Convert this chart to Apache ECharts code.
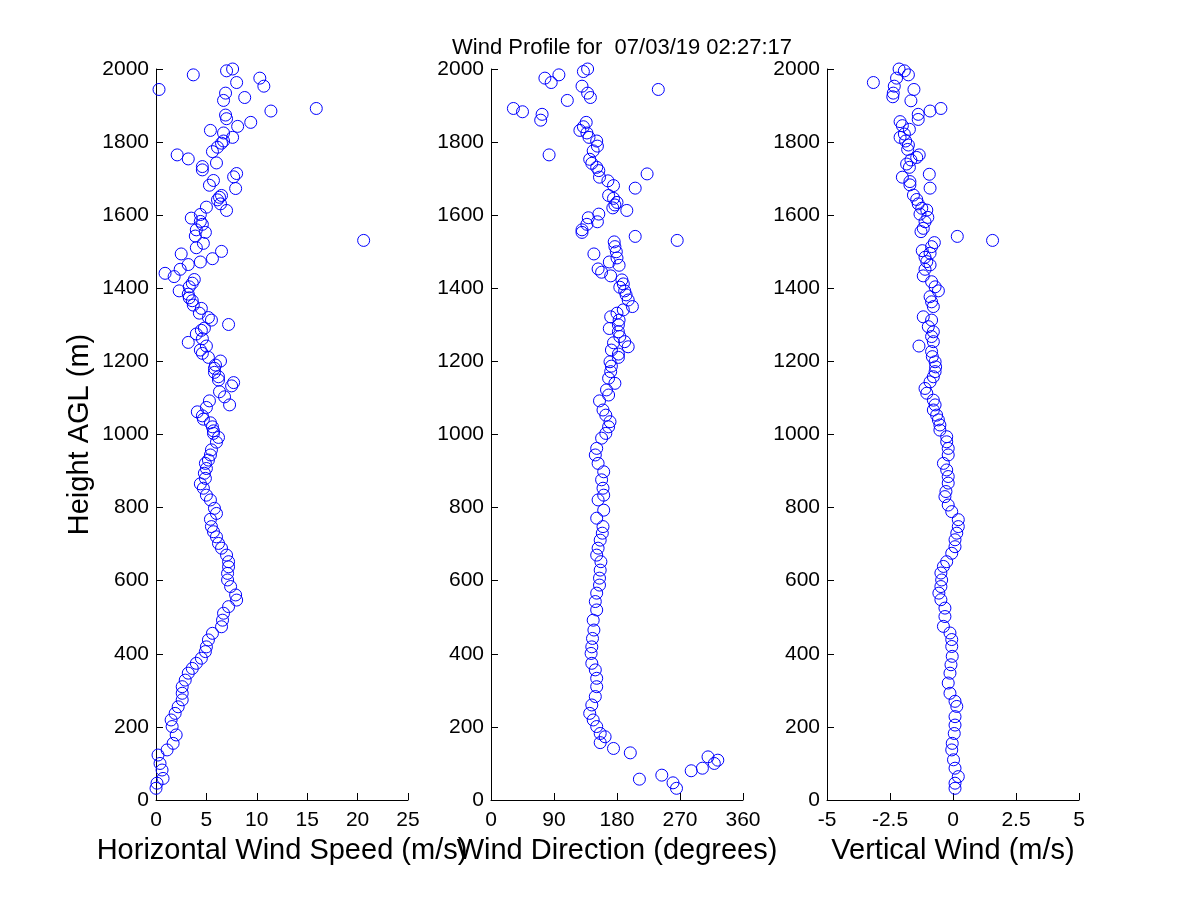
<!DOCTYPE html>
<html>
<head>
<meta charset="utf-8">
<script src="https://cdn.jsdelivr.net/npm/echarts@6/dist/echarts.min.js"></script>
<style>
html,body{margin:0;padding:0;background:#fff;}
#chart{width:1200px;height:900px;}
</style>
</head>
<body>
<div id="chart"></div>
<script>
// ---- Data ----
const titleText = 'Wind Profile for  07/03/19 02:27:17';

// Panel 1: horizontal wind speed (m/s)
const speedHeights = [2000,1995,1984,1975,1963,1953,1944,1934,1922,1914,1892,1885,1874,1864,1854,1843,1832,1825,1813,1803,1797,1786,1774,1765,1754,1743,1733,1724,1714,1705,1695,1682,1673,1654,1649,1642,1631,1622,1613,1602,1592,1583,1575,1560,1553,1543,1531,1523,1511,1501,1494,1481,1472,1465,1452,1441,1432,1424,1414,1404,1393,1384,1374,1366,1354,1345,1332,1320,1313,1301,1291,1285,1275,1262,1252,1242,1231,1222,1211,1201,1190,1181,1170,1158,1149,1142,1133,1117,1103,1092,1081,1074,1062,1051,1042,1032,1021,1010,1003,992,979,958,944,930,921,907,894,880,865,853,834,821,798,784,768,748,734,720,702,689,670,652,638,620,602,584,561,547,529,511,492,474,456,438,419,406,388,374,360,347,328,310,292,274,255,237,219,201,178,155,137,123,100,82,59,46,32];
const speed = [7.6,7.0,3.7,10.3,8.0,10.7,0.3,6.9,8.8,6.7,15.9,11.4,6.9,7.0,9.4,8.1,5.4,6.7,7.6,6.7,6.5,6.1,5.6,2.1,3.2,6.0,4.6,4.6,8.0,7.7,5.7,5.3,7.9,6.5,6.3,6.1,6.4,5.0,7.0,4.4,3.5,4.4,4.6,4.0,4.9,3.9,20.6,4.7,4.0,6.5,2.5,5.6,4.4,3.2,2.4,0.9,1.8,3.8,3.6,3.3,2.3,3.2,3.3,3.6,3.7,4.5,4.3,5.2,5.5,7.2,4.8,4.5,4.0,4.6,3.2,5.0,4.4,4.6,5.2,6.4,5.9,5.8,5.8,6.2,6.2,7.7,7.5,6.3,6.8,5.3,7.3,5.0,4.1,4.6,4.7,5.4,5.6,5.7,5.7,6.2,6.0,5.5,5.4,5.2,4.9,5.0,4.8,4.9,4.4,4.7,5.0,5.4,5.8,6.0,5.4,5.5,5.7,6.0,6.2,6.5,7.0,7.2,7.2,7.1,7.1,7.4,7.9,8.0,7.2,6.7,6.6,6.5,5.6,5.2,5.0,4.9,4.5,4.0,3.6,3.2,2.9,2.6,2.6,2.6,2.2,1.9,1.5,1.6,2.0,1.7,1.1,0.2,0.4,0.6,0.7,0.1,0.0];

// Panel 2: wind direction (degrees)
const dirHeights = [2000,1993,1984,1975,1963,1953,1944,1934,1922,1914,1892,1883,1876,1860,1854,1842,1832,1825,1813,1803,1789,1776,1765,1753,1742,1731,1722,1713,1704,1694,1681,1674,1654,1646,1635,1628,1620,1613,1603,1593,1582,1575,1560,1553,1542,1531,1527,1514,1500,1494,1483,1472,1463,1453,1444,1434,1423,1412,1403,1393,1382,1368,1350,1341,1332,1322,1313,1300,1290,1281,1268,1254,1251,1240,1231,1220,1211,1199,1187,1172,1154,1140,1122,1108,1092,1067,1053,1035,1021,1003,990,962,944,921,898,876,853,834,821,793,771,748,730,711,689,670,652,629,607,588,566,543,520,492,465,442,419,401,374,356,333,310,283,260,237,219,201,182,173,157,141,129,118,109,100,87,80,68,57,47,32];
const direction = [138,132,97,77,86,130,239,138,142,109,32,45,73,71,136,132,127,137,140,151,152,146,83,141,144,151,154,223,155,167,175,206,168,175,180,177,174,194,154,139,152,137,130,130,206,266,176,177,179,147,180,169,183,153,158,171,187,189,184,191,193,196,202,189,180,171,183,182,169,182,184,191,175,196,172,182,182,170,172,171,168,177,165,168,155,160,164,170,168,164,158,151,149,153,161,158,160,161,153,161,151,160,159,156,153,151,157,156,155,155,151,149,151,146,147,145,144,143,144,149,151,151,149,144,141,146,151,156,163,156,175,199,310,324,319,302,286,244,212,260,265];

// Panel 3: vertical wind (m/s)
const vertHeights = [2000,1995,1984,1975,1963,1953,1944,1934,1924,1913,1892,1885,1876,1862,1856,1845,1835,1822,1813,1803,1792,1780,1765,1758,1751,1740,1731,1712,1704,1692,1683,1674,1655,1643,1631,1619,1614,1603,1594,1582,1564,1555,1542,1531,1525,1514,1503,1496,1485,1473,1464,1452,1434,1418,1404,1393,1377,1363,1350,1322,1313,1295,1281,1268,1254,1242,1227,1213,1199,1185,1172,1158,1144,1126,1113,1094,1081,1067,1053,1040,1026,1012,994,980,962,944,921,903,885,867,844,830,807,789,767,748,730,712,693,675,652,639,621,602,584,566,548,525,502,475,457,439,420,393,370,347,320,292,270,256,228,205,182,155,137,110,87,64,46,32];
const vertical = [-2.14,-1.93,-1.77,-2.24,-3.16,-2.33,-1.55,-2.37,-2.39,-1.67,-0.48,-0.91,-1.38,-1.38,-2.10,-2.01,-1.73,-1.93,-2.10,-1.88,-1.77,-1.80,-1.34,-1.44,-1.67,-1.84,-1.73,-0.94,-2.01,-1.71,-1.71,-0.91,-1.57,-1.44,-1.38,-1.24,-1.04,-1.31,-1.00,-1.11,-1.18,-1.27,0.17,1.57,-0.74,-0.85,-1.22,-0.91,-1.11,-1.04,-0.91,-1.11,-1.18,-0.85,-0.71,-0.58,-0.91,-0.85,-0.78,-1.18,-0.85,-0.98,-0.78,-0.85,-0.78,-1.35,-0.85,-0.82,-0.71,-0.69,-0.71,-0.78,-0.91,-1.11,-1.04,-0.78,-0.71,-0.78,-0.65,-0.58,-0.52,-0.52,-0.25,-0.25,-0.19,-0.19,-0.38,-0.25,-0.19,-0.19,-0.28,-0.32,-0.19,-0.05,0.21,0.21,0.15,0.08,0.08,-0.05,-0.25,-0.38,-0.48,-0.45,-0.48,-0.56,-0.48,-0.32,-0.32,-0.38,-0.12,-0.05,-0.05,-0.03,-0.08,-0.12,-0.19,-0.12,0.08,0.15,0.08,0.08,0.05,-0.03,-0.05,0.02,0.08,0.21,0.08,0.08];

// Axes
const heightTicks = {min: 0, max: 2000, interval: 200};
const speedTicks = {min: 0, max: 25, interval: 5};
const dirTicks = {min: 0, max: 360, interval: 90};
const vertTicks = {min: -5, max: 5, interval: 2.5};
const xNames = ['Horizontal Wind Speed (m/s)', 'Wind Direction (degrees)', 'Vertical Wind (m/s)'];
const yName = 'Height AGL (m)';

// ---- Chart ----
const FONT = 'Liberation Sans, Arial, Helvetica, sans-serif';
const gridLefts = [156, 491, 827];

function pairs(xs, hs){ return hs.map((h, i) => [xs[i], h]); }
const plain = v => String(v);

const axisCommon = {
  axisLine: {show: true, onZero: false, lineStyle: {color: '#000', width: 1}},
  axisTick: {show: true, inside: true, length: 7, lineStyle: {color: '#000', width: 1}},
  splitLine: {show: false},
  axisLabel: {color: '#000', fontSize: 21, fontFamily: FONT, formatter: plain}
};

const grids = gridLefts.map(l => ({left: l, top: 69, width: 252, height: 731, outerBoundsMode: 'none', containLabel: false}));

const xTickSets = [speedTicks, dirTicks, vertTicks];
const xAxes = xTickSets.map((t, i) => Object.assign({}, axisCommon, {
  type: 'value', gridIndex: i, min: t.min, max: t.max, interval: t.interval,
  position: 'bottom',
  axisLabel: Object.assign({}, axisCommon.axisLabel, {margin: 10, showMinLabel: true, showMaxLabel: true}),
  name: xNames[i], nameLocation: 'middle', nameGap: 36,
  nameTextStyle: {color: '#000', fontSize: 29, fontFamily: FONT}
}));

const yAxes = [0, 1, 2].map(i => Object.assign({}, axisCommon, {
  type: 'value', gridIndex: i, min: heightTicks.min, max: heightTicks.max, interval: heightTicks.interval,
  position: 'left',
  axisLabel: Object.assign({}, axisCommon.axisLabel, {margin: 7}),
  name: i === 0 ? yName : '', nameLocation: 'middle', nameGap: 62,
  nameTextStyle: {color: '#000', fontSize: 29, fontFamily: FONT}
}));

const seriesData = [pairs(speed, speedHeights), pairs(direction, dirHeights), pairs(vertical, vertHeights)];
const series = seriesData.map((d, i) => ({
  type: 'scatter', xAxisIndex: i, yAxisIndex: i, data: d,
  symbol: 'circle', symbolSize: 12, clip: false,
  itemStyle: {color: 'rgba(0,0,0,0)', borderColor: '#0000ff', borderWidth: 1, opacity: 1},
  emphasis: {disabled: true}, silent: true
}));

const chart = echarts.init(document.getElementById('chart'), null, {renderer: 'canvas'});
chart.setOption({
  animation: false,
  backgroundColor: '#fff',
  title: {text: titleText, left: 617, top: 32, textAlign: 'center',
    textStyle: {color: '#000', fontSize: 22, fontWeight: 'normal', fontFamily: FONT}},
  grid: grids,
  xAxis: xAxes,
  yAxis: yAxes,
  series: series
});
</script>
</body>
</html>
